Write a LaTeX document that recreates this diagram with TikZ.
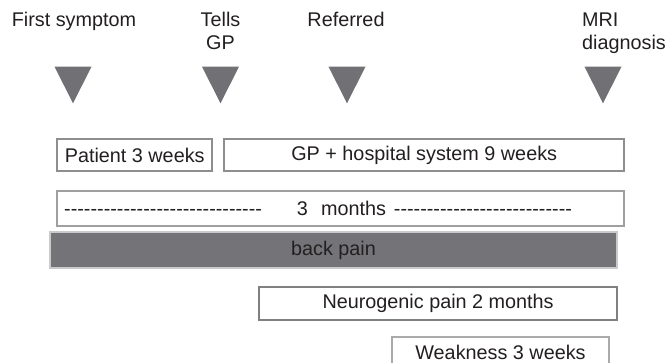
\documentclass[tikz,border=0pt]{standalone}
\usepackage{fontspec}
\setmainfont{Liberation Sans}
\usetikzlibrary{positioning}

\definecolor{inkgray}{HTML}{231F20}
\definecolor{markgray}{HTML}{717175}
\definecolor{framegray}{HTML}{8E8E8E}
\definecolor{bargray}{HTML}{747478}
\definecolor{rimgray}{HTML}{CACACA}

\newcommand\dashrun[1]{\foreach \k in {1,...,#1}{-\kern0pt}}

\tikzset{
  stage/.style={font=\fontsize{19.8}{23}\selectfont, text=inkgray, inner sep=0pt},
  period/.style={draw=framegray, line width=2.4pt, fill=white, anchor=north west,
    inner sep=0pt, font=\fontsize{19.8}{23}\selectfont, text=inkgray},
  marker/.style={fill=markgray}
}

\begin{document}
\begin{tikzpicture}[x=1pt, y=-1pt]

    % ------------------ Frame ------------------
    \useasboundingbox (0,0) rectangle (666,363);
    \clip (0,0) rectangle (666,363);

    % ------------------ Layout ------------------
    \def\triW{37}
    \def\triH{36.6}
    \def\triY{66.7}

    % ------------------ Milestones ------------------
    % (two-line labels sit on the baseline of their last line)
    \node[stage, anchor=base] (first) at (74,27) {First symptom};
    \node[stage, anchor=base, align=center] (tells) at (220.5,50) {Tells\\GP};
    \node[stage, anchor=base] (referred) at (346,27) {Referred};
    \node[stage, anchor=base west, align=left] (mri) at (582,50) {MRI\\diagnosis};

    % ------------------ Triangles ------------------
    \foreach \x/\name in {73/first, 220.5/tells, 347/referred, 603/mri} {
      \coordinate (tri-\name) at (\x,\triY);
      \fill[marker] (tri-\name) ++(-\triW/2,0) -- ++(\triW,0)
      -- ++(-\triW/2,\triH) -- cycle;
    }

    % ------------------ Delay boxes ------------------
    \node[period, minimum width=155pt, minimum height=32pt] (patient)
    at (56,138) {Patient 3 weeks};
    \node[period, minimum width=400pt, minimum height=32pt] (gpsys)
    at (223,138) {GP + hospital system 9 weeks};

    \node[period, draw=framegray!85, minimum height=35pt, text width=553pt,
    inner xsep=7pt, align=left] (months) at (56,190)
    {\dashrun{30}\hspace{35pt}3\hspace{13pt}months\hspace{8pt}\dashrun{27}};

    % ------------------ Symptoms ------------------
    \node[period, fill=bargray, draw=rimgray, line width=2pt,
    minimum width=567pt, minimum height=36pt] (back) at (49,231) {back pain};

    \node[period, draw=framegray!90!black, line width=2.2pt,
    minimum width=358pt, minimum height=33pt] (neuro) at (258,286)
    {Neurogenic pain 2 months};

    \node[period, draw=framegray!75, line width=2pt,
    minimum width=217pt, minimum height=31pt] (weak) at (391,336)
    {Weakness 3 weeks};

  \end{tikzpicture}
\end{document}
